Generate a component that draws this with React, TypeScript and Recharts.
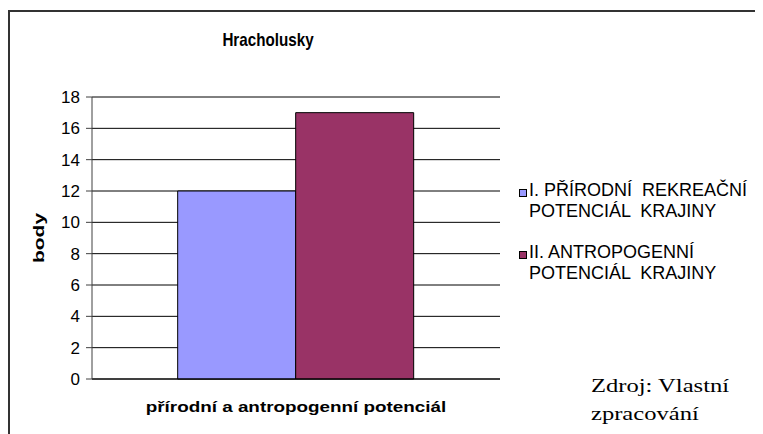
import React from "react";
import { BarChart, Bar, XAxis, YAxis, CartesianGrid, ReferenceLine, Label } from "recharts";

const categories = ["přírodní a antropogenní potenciál"];
const prirodni = [12];
const antropogenni = [17];
const yTicks = [0, 2, 4, 6, 8, 10, 12, 14, 16, 18];
const seriesNames = [
  ["I. PŘÍRODNÍ  REKREAČNÍ", "POTENCIÁL  KRAJINY"],
  ["II. ANTROPOGENNÍ", "POTENCIÁL  KRAJINY"],
];
const seriesColors = ["#9999FF", "#993366"];

const data = categories.map((c, i) => ({ name: c, s1: prirodni[i], s2: antropogenni[i] }));

const font = "Arial, 'Liberation Sans', sans-serif";
const serif = "'Times New Roman', 'Liberation Serif', serif";

// legenda vpravo od grafu
function LegendBox() {
  return (
    <div style={{ position: "absolute", left: 511, top: 172, fontFamily: font, fontSize: 18, color: "#000" }}>
      {seriesNames.map((lines, i) => (
        <div key={i} style={{ position: "relative", paddingLeft: 10, marginBottom: 20, lineHeight: "21px", whiteSpace: "pre" }}>
          <span
            style={{
              position: "absolute",
              left: 0,
              top: 9,
              width: 6,
              height: 6,
              background: seriesColors[i],
              border: "1px solid #000",
            }}
          />
          {lines[0]}
          <br />
          {lines[1]}
        </div>
      ))}
    </div>
  );
}

export default function App() {
  return (
    <div style={{ position: "relative", width: 755, height: 426, overflow: "hidden", background: "#fff" }}>
      {/* rámeček grafu */}
      <div
        style={{
          position: "absolute",
          left: 0,
          top: 2,
          width: 800,
          height: 500,
          borderLeft: "2px solid #333",
          borderTop: "2px solid #333",
        }}
      />
      <div style={{ position: "absolute", left: 0, top: 0 }}>
        <BarChart
          width={755}
          height={426}
          data={data}
          margin={{ top: 89, right: 263, left: 24, bottom: 25 }}
          barCategoryGap="21%"
          barGap={0}
        >
          <CartesianGrid vertical={false} stroke="#000" strokeWidth={1} />
          <XAxis dataKey="name" tick={false} tickLine={false} stroke="#000" height={30} />
          <YAxis
            domain={[0, 18]}
            ticks={yTicks}
            interval={0}
            width={60}
            stroke="#404040"
            tickSize={6}
            tickMargin={6}
            tick={{ fontFamily: font, fontSize: 17, fill: "#000" }}
          />
          <YAxis yAxisId="r" orientation="right" width={0} tick={false} tickLine={false} stroke="#808080" />
          <ReferenceLine y={18} stroke="#808080" />
          <Bar dataKey="s1" fill={seriesColors[0]} stroke="#000" strokeWidth={1} isAnimationActive={false} />
          <Bar dataKey="s2" fill={seriesColors[1]} stroke="#000" strokeWidth={1} isAnimationActive={false} />
        </BarChart>
      </div>
      {/* nadpis */}
      <div
        style={{
          position: "absolute",
          left: 260,
          top: 21,
          transform: "translateX(-50%) scaleX(0.8)",
          fontFamily: font,
          fontWeight: "bold",
          fontSize: 19,
          whiteSpace: "nowrap",
        }}
      >
        Hracholusky
      </div>
      {/* popis osy y */}
      <div
        style={{
          position: "absolute",
          left: 30,
          top: 230,
          transform: "translate(-50%, -50%) rotate(-90deg) scaleX(1.4)",
          fontFamily: font,
          fontWeight: "bold",
          fontSize: 15,
          whiteSpace: "nowrap",
        }}
      >
        body
      </div>
      {/* popis osy x */}
      <div
        style={{
          position: "absolute",
          left: 288,
          top: 391,
          transform: "translateX(-50%) scaleX(1.3)",
          fontFamily: font,
          fontWeight: "bold",
          fontSize: 14.5,
          whiteSpace: "nowrap",
        }}
      >
        {categories[0]}
      </div>
      <LegendBox />
      <div
        style={{
          position: "absolute",
          left: 583,
          top: 364,
          transform: "scaleX(1.26)",
          transformOrigin: "left top",
          fontFamily: serif,
          fontSize: 19.5,
          lineHeight: "28px",
          color: "#000",
          whiteSpace: "nowrap",
        }}
      >
        Zdroj: Vlastní
        <br />
        zpracování
      </div>
    </div>
  );
}
